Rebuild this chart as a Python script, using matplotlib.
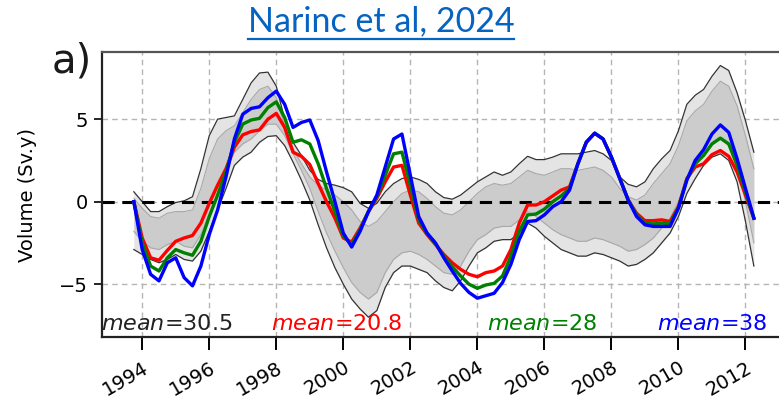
import numpy as np
import matplotlib
matplotlib.use("Agg")
import matplotlib.pyplot as plt
from matplotlib.lines import Line2D

# quarterly time axis, 1993.75 .. 2012.25
t_years = 1993.75 + 0.25 * np.arange(75)

vol_blue = [
    0.0, -2.9, -4.4, -4.8, -3.7, -3.4, -4.6, -5.1, -3.9, -2.0,
    -0.5, 1.5, 3.8, 5.3, 5.65, 5.75, 6.3, 6.7, 5.9, 4.5,
    4.8, 4.95, 3.7, 1.8, 0.0, -1.9, -2.75, -1.8, -0.6, 0.4,
    2.1, 3.8, 4.1, 1.6, -0.9, -1.9, -2.5, -3.4, -4.2, -4.95,
    -5.5, -5.85, -5.7, -5.55, -4.9, -3.8, -2.3, -1.2, -1.15, -0.8,
    -0.3, 0.0, 0.7, 2.3, 3.6, 4.15, 3.8, 2.7, 1.4, 0.1,
    -0.9, -1.4, -1.5, -1.5, -1.5, -0.4, 1.3, 2.5, 3.15, 4.1,
    4.65, 4.2, 2.6, 0.8, -1.0,
]

vol_red = [
    0.0, -2.2, -3.4, -3.55, -2.95, -2.4, -2.2, -2.05, -1.3, -0.1,
    1.0, 2.0, 3.3, 4.05, 4.25, 4.35, 5.0, 5.35, 4.5, 3.0,
    2.75, 2.25, 1.1, 0.0, -1.0, -2.2, -2.45, -1.6, -0.6, 0.2,
    1.2, 2.1, 2.2, 0.4, -1.3, -2.0, -2.6, -3.2, -3.7, -4.1,
    -4.4, -4.55, -4.3, -4.2, -3.9, -2.9, -1.3, -0.2, -0.2, 0.0,
    0.35, 0.7, 0.9, 2.3, 3.6, 4.15, 3.8, 2.7, 1.4, 0.1,
    -0.7, -1.15, -1.15, -1.1, -1.2, -0.3, 1.4, 2.1, 2.3, 2.85,
    3.1, 2.75, 1.8, 0.4, -1.0,
]

vol_green = [
    0.0, -2.5, -3.9, -4.2, -3.4, -2.9, -3.1, -3.25, -2.4, -0.9,
    0.4, 1.8, 3.6, 4.7, 4.95, 5.05, 5.7, 6.05, 5.1, 3.6,
    3.75, 3.5, 2.3, 0.8, -0.6, -2.1, -2.6, -1.7, -0.6, 0.3,
    1.6, 2.9, 3.0, 1.0, -1.1, -1.95, -2.55, -3.3, -3.95, -4.5,
    -5.0, -5.25, -5.05, -4.95, -4.5, -3.3, -1.8, -0.8, -0.75, -0.45,
    0.0, 0.35, 0.8, 2.3, 3.6, 4.15, 3.8, 2.7, 1.4, 0.1,
    -0.8, -1.3, -1.35, -1.3, -1.35, -0.35, 1.35, 2.3, 2.8, 3.5,
    3.85, 3.5, 2.2, 0.6, -1.0,
]

# ensemble spread: outer envelope and dense core
ens_max = [
    0.6, 0.0, -0.6, -0.6, -0.3, -0.05, 0.05, 0.3, 2.0, 4.0,
    5.0, 5.1, 5.2, 6.2, 7.2, 7.8, 7.85, 7.0, 5.0, 3.6,
    2.8, 1.9, 1.35, 1.1, 1.0, 0.85, 0.6, -0.1, -0.4, -0.1,
    0.6, 1.1, 1.4, 1.5, 1.35, 1.1, 0.6, 0.25, 0.15, 0.4,
    0.8, 1.2, 1.5, 1.8, 1.6, 1.8, 2.3, 2.75, 2.55, 2.55,
    2.7, 2.9, 2.9, 2.9, 3.0, 3.1, 2.9, 2.5, 1.5, 1.05,
    0.9, 1.2, 2.0, 2.6, 3.1, 4.3, 5.9, 6.45, 6.8, 7.6,
    8.25, 7.95, 6.6, 4.9, 3.0,
]

ens_min = [
    -2.9, -3.2, -3.5, -3.7, -3.5, -3.2, -3.5, -3.6, -3.0, -1.8,
    -0.5, 0.8, 2.2, 2.7, 3.0, 3.6, 3.95, 4.0, 3.4, 2.4,
    1.3, 0.1, -1.4, -2.8, -4.0, -5.0, -5.9, -6.5, -7.0, -6.6,
    -5.2, -4.3, -3.9, -3.9, -4.1, -4.3, -4.8, -5.2, -5.4, -4.8,
    -3.9, -3.1, -2.8, -2.4, -2.3, -2.3, -1.9, -1.3, -1.6, -2.1,
    -2.5, -2.9, -3.1, -3.3, -3.3, -3.1, -3.2, -3.4, -3.6, -3.9,
    -3.8, -3.5, -3.1, -2.5, -1.9, -0.9, 0.5, 1.4, 2.2, 2.7,
    2.9, 2.5, 1.2, -1.2, -3.9,
]

core_hi = [
    0.2, -0.4, -0.9, -1.0, -0.7, -0.6, -0.6, -0.5, 0.8, 2.6,
    3.8, 4.3, 4.6, 5.4, 6.2, 6.8, 7.0, 6.3, 4.6, 3.2,
    2.3, 1.5, 1.0, 0.7, 0.4, 0.0, -0.5, -1.2, -1.5, -1.2,
    -0.6, 0.0, 0.5, 0.7, 0.6, 0.2, -0.3, -0.7, -0.8, -0.5,
    0.0, 0.5, 0.9, 1.1, 1.0, 1.1, 1.5, 1.9, 1.7, 1.6,
    1.8, 2.0, 2.0, 1.9, 2.0, 2.1, 1.9, 1.5, 0.8, 0.3,
    0.1, 0.4, 1.1, 1.7, 2.3, 3.4, 4.9, 5.5, 5.9, 6.7,
    7.3, 7.0, 5.8, 4.0, 2.0,
]

core_lo = [
    -1.8, -2.4, -2.8, -2.9, -2.6, -2.4, -2.7, -2.8, -2.0, -0.8,
    0.4, 1.8, 3.0, 3.5, 3.8, 4.3, 4.7, 4.7, 4.0, 2.9,
    1.9, 0.8, -0.6, -1.9, -3.0, -4.0, -4.9, -5.5, -5.9, -5.5,
    -4.3, -3.5, -3.1, -3.0, -3.2, -3.5, -3.9, -4.3, -4.4, -3.9,
    -3.0, -2.3, -2.0, -1.6, -1.5, -1.5, -1.1, -0.6, -0.9, -1.3,
    -1.7, -2.0, -2.2, -2.4, -2.4, -2.2, -2.3, -2.5, -2.7, -3.0,
    -2.9, -2.6, -2.2, -1.6, -1.0, 0.0, 1.4, 2.3, 3.0, 3.5,
    3.8, 3.4, 2.2, 0.0, -2.5,
]

year_ticks = [1994, 1996, 1998, 2000, 2002, 2004, 2006, 2008, 2010, 2012]
vol_ticks = [-5, 0, 5]

mean_labels = ["30.5", "20.8", "28", "38"]
mean_colors = ["#222222", "red", "green", "blue"]
mean_xpos = [1992.78, 1997.85, 2004.3, 2009.35]


fig = plt.figure(figsize=(7.79, 4.01), dpi=100)
ax = fig.add_axes([102 / 779, 64 / 401, 677 / 779, 285 / 401])

ax.set_xlim(1992.8, 2013.0)
ax.set_ylim(-8.2, 9.07)

# ensemble members
ax.fill_between(t_years, ens_min, ens_max, color="#e4e4e4", lw=0, zorder=1)
ax.fill_between(t_years, core_lo, core_hi, color="#c6c6c6", alpha=0.8, lw=0, zorder=1.2)
ax.plot(t_years, core_hi, color="#a8a8a8", lw=0.8, zorder=1.4)
ax.plot(t_years, core_lo, color="#a8a8a8", lw=0.8, zorder=1.4)
ax.plot(t_years, ens_max, color="#333333", lw=0.9, zorder=2)
ax.plot(t_years, ens_min, color="#333333", lw=0.9, zorder=2)

ax.axhline(0, color="black", lw=2.2, ls=(0, (4, 2.5)), zorder=2.5)

ax.plot(t_years, vol_red, color="red", lw=2.4, zorder=3, solid_joinstyle="round")
ax.plot(t_years, vol_green, color="green", lw=2.4, zorder=3.1, solid_joinstyle="round")
ax.plot(t_years, vol_blue, color="blue", lw=2.4, zorder=3.2, solid_joinstyle="round")

for lab, col, xp in zip(mean_labels, mean_colors, mean_xpos):
    ax.text(xp, -7.4, r"$mean$=" + lab, color=col, fontsize=16,
            va="center", ha="left", zorder=4)

ax.set_xticks(year_ticks)
ax.set_xticklabels([str(y) for y in year_ticks], rotation=30,
                   ha="right", rotation_mode="anchor", fontsize=14)
ax.set_yticks(vol_ticks)
ax.set_yticklabels(["\u22125", "0", "5"], fontsize=14)
ax.tick_params(axis="x", direction="out", length=9, width=1.4, pad=6)
ax.tick_params(axis="y", direction="out", length=6, width=1.2, pad=4)

ax.grid(True, color="#b5b5b5", ls=(0, (4, 3)), lw=1.0, zorder=0)
ax.set_axisbelow(True)

for side in ["left", "bottom", "top"]:
    ax.spines[side].set_linewidth(1.6)
    ax.spines[side].set_color("#222222")
ax.spines["top"].set_color("#555555")
ax.spines["right"].set_visible(False)

ax.set_ylabel("Volume (Sv.y)", fontsize=14, labelpad=16)

fig.text(52 / 779, 1 - 62 / 401, "a)", fontsize=29, color="#1a1a1a",
         va="center", ha="left")

title = fig.text(381 / 779, 1 - 21 / 401, "Narinc et al, 2024",
                 fontsize=24.5, color="#0563C1", family="Lato",
                 ha="center", va="center")

# underline the reference text
fig.canvas.draw()
bb = title.get_window_extent().transformed(fig.transFigure.inverted())
fig.add_artist(Line2D([bb.x0, bb.x1], [1 - 39 / 401] * 2,
                      transform=fig.transFigure, color="#0563C1", lw=1.6))

fig.savefig("out.png", dpi=100)
